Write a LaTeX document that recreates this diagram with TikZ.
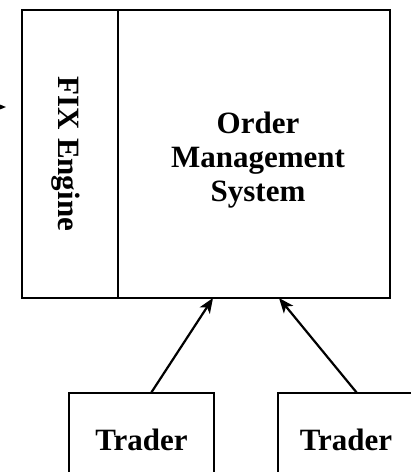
\documentclass[tikz,border=0pt]{standalone}
\usepackage{fontspec}
\setmainfont{Liberation Serif}
\usetikzlibrary{arrows.meta}
\begin{document}
\begin{tikzpicture}[x=1pt,y=-1pt,
  boxstyle/.style={draw=black,line width=2.6pt,rectangle,inner sep=0pt,outer sep=0pt},
  lbl/.style={font=\fontsize{31pt}{34pt}\selectfont\bfseries,align=center,inner sep=0pt},
  arr/.style={line width=2.2pt,-{Stealth[length=15pt,width=12pt,inset=4pt]}}]
\useasboundingbox (0,0) rectangle (411,472);
\begin{scope}
\clip (0,0) rectangle (411,472);
\node[boxstyle,minimum width=96pt,minimum height=288pt] (fix) at (70,154) {};
\node[boxstyle,minimum width=272pt,minimum height=288pt] (oms) at (254,154) {};
\node[lbl,rotate=-90] (fixlabel) at (66,154) {FIX Engine};
\node[lbl] (omslabel) at (258,160) {Order\\Management\\System};
\node[boxstyle,minimum width=145pt,minimum height=94pt,lbl] (t1) at (141.5,440) {Trader};
\node[boxstyle,minimum width=136pt,minimum height=94pt,lbl] (t2) at (346,440) {Trader};
\draw[arr] ([xshift=9.5pt]t1.north) -- ([xshift=-41pt]oms.south);
\draw[arr] ([xshift=11pt]t2.north) -- ([xshift=25pt]oms.south);
\coordinate (ext) at (-40,107);
\coordinate (exttip) at (6,107);
\draw[arr] (ext) -- (exttip);
\end{scope}
\end{tikzpicture}
\end{document}
